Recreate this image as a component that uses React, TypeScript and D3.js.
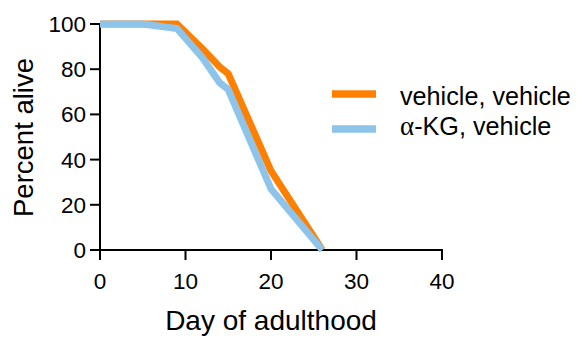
import React from "react";
import * as d3 from "d3";

const vehicleDays = [0, 9, 12, 14, 15, 20, 26];
const vehicleAlive = [100, 100, 89, 81, 78, 35, 0];
const akgDays = [0, 5, 9, 12, 14, 15, 20, 26];
const akgAlive = [100, 100, 98, 85, 74, 71, 27, 0];
const xTicks = [0, 10, 20, 30, 40];
const yTicks = [0, 20, 40, 60, 80, 100];
const seriesColors = ["#FF7F00", "#8EC3EA"];

const W = 578;
const H = 341;
const left = 100;
const right = 442;
const top = 24;
const bottom = 250;
const font = "Arial, 'Liberation Sans', sans-serif";
const serif = "'Times New Roman', 'Liberation Serif', serif";

export default function App() {
  const x = d3.scaleLinear().domain([0, 40]).range([left, right]);
  const y = d3.scaleLinear().domain([0, 100]).range([bottom, top]);
  const line = d3
    .line<[number, number]>()
    .x((d) => x(d[0]))
    .y((d) => y(d[1]));
  const series = [
    vehicleDays.map((d, i) => [d, vehicleAlive[i]] as [number, number]),
    akgDays.map((d, i) => [d, akgAlive[i]] as [number, number]),
  ];

  return (
    <svg
      width={W}
      height={H}
      style={{ position: "absolute", left: 0, top: 0, background: "#fff" }}
      fontFamily={font}
    >
      <rect width={W} height={H} fill="#fff" />
      {/* axes */}
      <line x1={left} x2={left} y1={top} y2={bottom + 1} stroke="#000" strokeWidth={2} />
      <line x1={left - 1} x2={right + 1} y1={bottom} y2={bottom} stroke="#000" strokeWidth={2} />
      {yTicks.map((t) => (
        <g key={"y" + t}>
          <line x1={left - 10} x2={left} y1={y(t)} y2={y(t)} stroke="#000" strokeWidth={2} />
          <text x={left - 14} y={y(t) + 8} textAnchor="end" fontSize={22.5} fill="#000">
            {t}
          </text>
        </g>
      ))}
      {xTicks.map((t) => (
        <g key={"x" + t}>
          <line x1={x(t)} x2={x(t)} y1={bottom} y2={bottom + 10} stroke="#000" strokeWidth={2} />
          <text x={x(t)} y={bottom + 39} textAnchor="middle" fontSize={22.5} fill="#000">
            {t}
          </text>
        </g>
      ))}
      <text x={(left + right) / 2} y={330} textAnchor="middle" fontSize={28} fill="#000">
        Day of adulthood
      </text>
      <text
        transform={`translate(33, ${(top + bottom) / 2 + 0.5}) rotate(-90)`}
        textAnchor="middle"
        fontSize={27.5}
        fill="#000"
      >
        Percent alive
      </text>
      {/* survival curves */}
      {series.map((s, i) => (
        <path
          key={i}
          d={line(s) || ""}
          fill="none"
          stroke={seriesColors[i]}
          strokeWidth={7}
          strokeLinejoin="miter"
        />
      ))}
      {/* legend */}
      <line x1={332} x2={376} y1={94} y2={94} stroke={seriesColors[0]} strokeWidth={7.5} />
      <line x1={332} x2={376} y1={129} y2={129} stroke={seriesColors[1]} strokeWidth={7.5} />
      <text x={400} y={105} fontSize={25.2} fill="#000">
        vehicle, vehicle
      </text>
      <text x={400} y={135} fontSize={25.2} fill="#000">
        <tspan fontFamily={serif} fontSize={27}>
          {"\u03b1"}
        </tspan>
        -KG, vehicle
      </text>
    </svg>
  );
}
